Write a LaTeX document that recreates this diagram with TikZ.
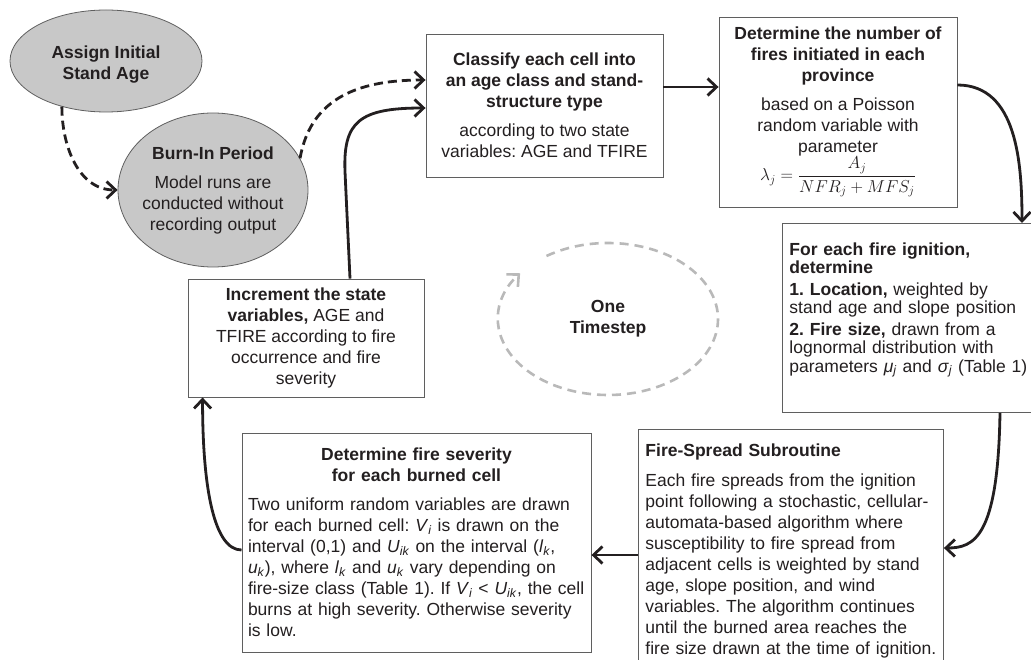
\documentclass[tikz,border=0pt]{standalone}
\usepackage{amsmath}
\usepackage{fontspec}
\setmainfont{Liberation Sans}
\usepackage{tikz}
\usetikzlibrary{arrows.meta,positioning,shapes.geometric,calc}
\definecolor{inkdark}{RGB}{35,31,32}
\definecolor{ellgray}{RGB}{200,200,200}
\definecolor{edgegray}{RGB}{95,95,95}
\definecolor{loopgray}{RGB}{185,185,185}
\newcommand{\vsub}[2]{\textit{#1}\textsubscript{\textit{#2}}}
\frenchspacing
\tikzset{
  % text size for every node
  every node/.append style={font=\fontsize{17.5}{21}\selectfont, text=inkdark},
}

\begin{document}
\begin{tikzpicture}[x=1pt, y=1pt,
        box/.style={draw=edgegray, line width=0.9pt, fill=white, inner sep=6pt},
        ell/.style={ellipse, draw=edgegray, line width=0.8pt, fill=ellgray, inner sep=-4pt, align=center},
        arr/.style={-{Straight Barb[length=9pt, width=17pt]}, line width=2.8pt, draw=inkdark},
        darr/.style={arr, dash pattern=on 9pt off 5pt},
        looparr/.style={-{Straight Barb[length=9pt, width=17pt]}, line width=2.6pt, draw=loopgray, dash pattern=on 9pt off 6pt}
    ]
        \useasboundingbox (0,0) rectangle (1031,-660);

        % start: stand age
        \node[ell, minimum width=192pt, minimum height=102pt] (assign) at (106,-61)
            {\rule{0pt}{20pt}\textbf{Assign Initial}\\\textbf{Stand Age}};

        % burn-in
        \node[ell, minimum width=190pt, minimum height=154pt] (burn) at (213,-190)
            {\textbf{Burn-In Period}\\[8pt]Model runs are\\conducted without\\recording output};

        % classify cells
        \node[box, align=center, minimum width=237pt, minimum height=143pt] (classify) at (544.5,-105.5)
            {\textbf{Classify each cell into}\\\textbf{an age class and stand-}\\\textbf{structure type}\\[8pt]according to two state\\variables: AGE and TFIRE};

        % number of fires
        \node[box, align=center, minimum width=238pt, minimum height=190pt] (nfires) at (838,-112)
            {\textbf{Determine the number of}\\\textbf{fires initiated in each}\\\textbf{province}\\[8pt]based on a Poisson\\random variable with\\parameter\\$\lambda_j=\dfrac{A_j}{NFR_j+MFS_j}$};

        % ignition: location and size
        \node[box, anchor=north west, align=left, text width=250pt, inner xsep=7pt, minimum height=189pt,
              font=\fontsize{17.5}{18.5}\selectfont] (ignite) at (782,-223)
            {\textbf{For each fire ignition,}\\\textbf{determine}\\[3pt]\textbf{1. Location,} weighted by\\stand age and slope position\\[3pt]\textbf{2. Fire size,} drawn from a\\lognormal distribution with\\parameters \vsub{μ}{j} and \vsub{σ}{j} (Table 1)\par\vspace*{16pt}};

        % fire spread
        \node[box, anchor=north west, align=left, text width=291pt, inner xsep=7pt, inner ysep=14pt] (spread) at (638,-429)
            {\textbf{Fire-Spread Subroutine}\\[9pt]Each fire spreads from the ignition\\point following a stochastic, cellular-\\automata-based algorithm where\\susceptibility to fire spread from\\adjacent cells is weighted by stand\\age, slope position, and wind\\variables. The algorithm continues\\until the burned area reaches the\\fire size drawn at the time of ignition.};

        % severity
        \node[box, align=left, text width=337pt, minimum height=219pt] (sev) at (416.5,-542.5)
            {{\centering\textbf{Determine fire severity}\\\textbf{for each burned cell}\par}\vspace{8pt}Two uniform random variables are drawn\\for each burned cell: \vsub{V}{i} is drawn on the\\interval (0,1) and \vsub{U}{ik} on the interval (\vsub{l}{k},\\\vsub{u}{k}), where \vsub{l}{k} and \vsub{u}{k} vary depending on\\fire-size class (Table 1). If \vsub{V}{i} < \vsub{U}{ik}, the cell\\burns at high severity. Otherwise severity\\is low.};

        % increment state
        \node[box, align=center, minimum width=236pt, minimum height=118pt] (incr) at (306,-338)
            {\textbf{Increment the state}\\\textbf{variables,} AGE and\\TFIRE according to fire\\occurrence and fire\\severity};

        % one timestep loop
        \node[font=\fontsize{17.5}{21}\selectfont\bfseries, align=center] (tstep) at (608,-319) {One\\Timestep};
        \draw[looparr] ([shift={(124:110pt and 76pt)}]tstep.center) arc[start angle=124, end angle=-217, x radius=110pt, y radius=76pt];

        % arrows
        \draw[darr] (assign.226) to[out=-90, in=180] (burn.west);
        \draw[darr] (burn.20) to[out=80, in=180, looseness=1.1] ([yshift=25.5pt]classify.west);
        \draw[arr] ([yshift=18.5pt]classify.east) -- ([yshift=25pt]nfires.west);
        \draw[arr] ([yshift=27pt]nfires.east) to[out=0, in=90] ([xshift=240pt]ignite.north west);
        \draw[arr] ([xshift=218pt]ignite.south west) .. controls +(-2,-125) and +(30,0) .. ([yshift=-119pt]spread.north east);
        \draw[arr] ([yshift=-126pt]spread.north west) -- ([yshift=-12.5pt]sev.east);
        \draw[arr] ([yshift=-7.5pt]sev.west) .. controls +(-27,0) and +(0,-93) .. ([xshift=15pt]incr.south west);
        \draw[arr] ([xshift=44pt]incr.north) -- ++(-5,107) .. controls +(-2,50) and +(-66,0) .. ([yshift=-2.5pt]classify.west);
\end{tikzpicture}
\end{document}
